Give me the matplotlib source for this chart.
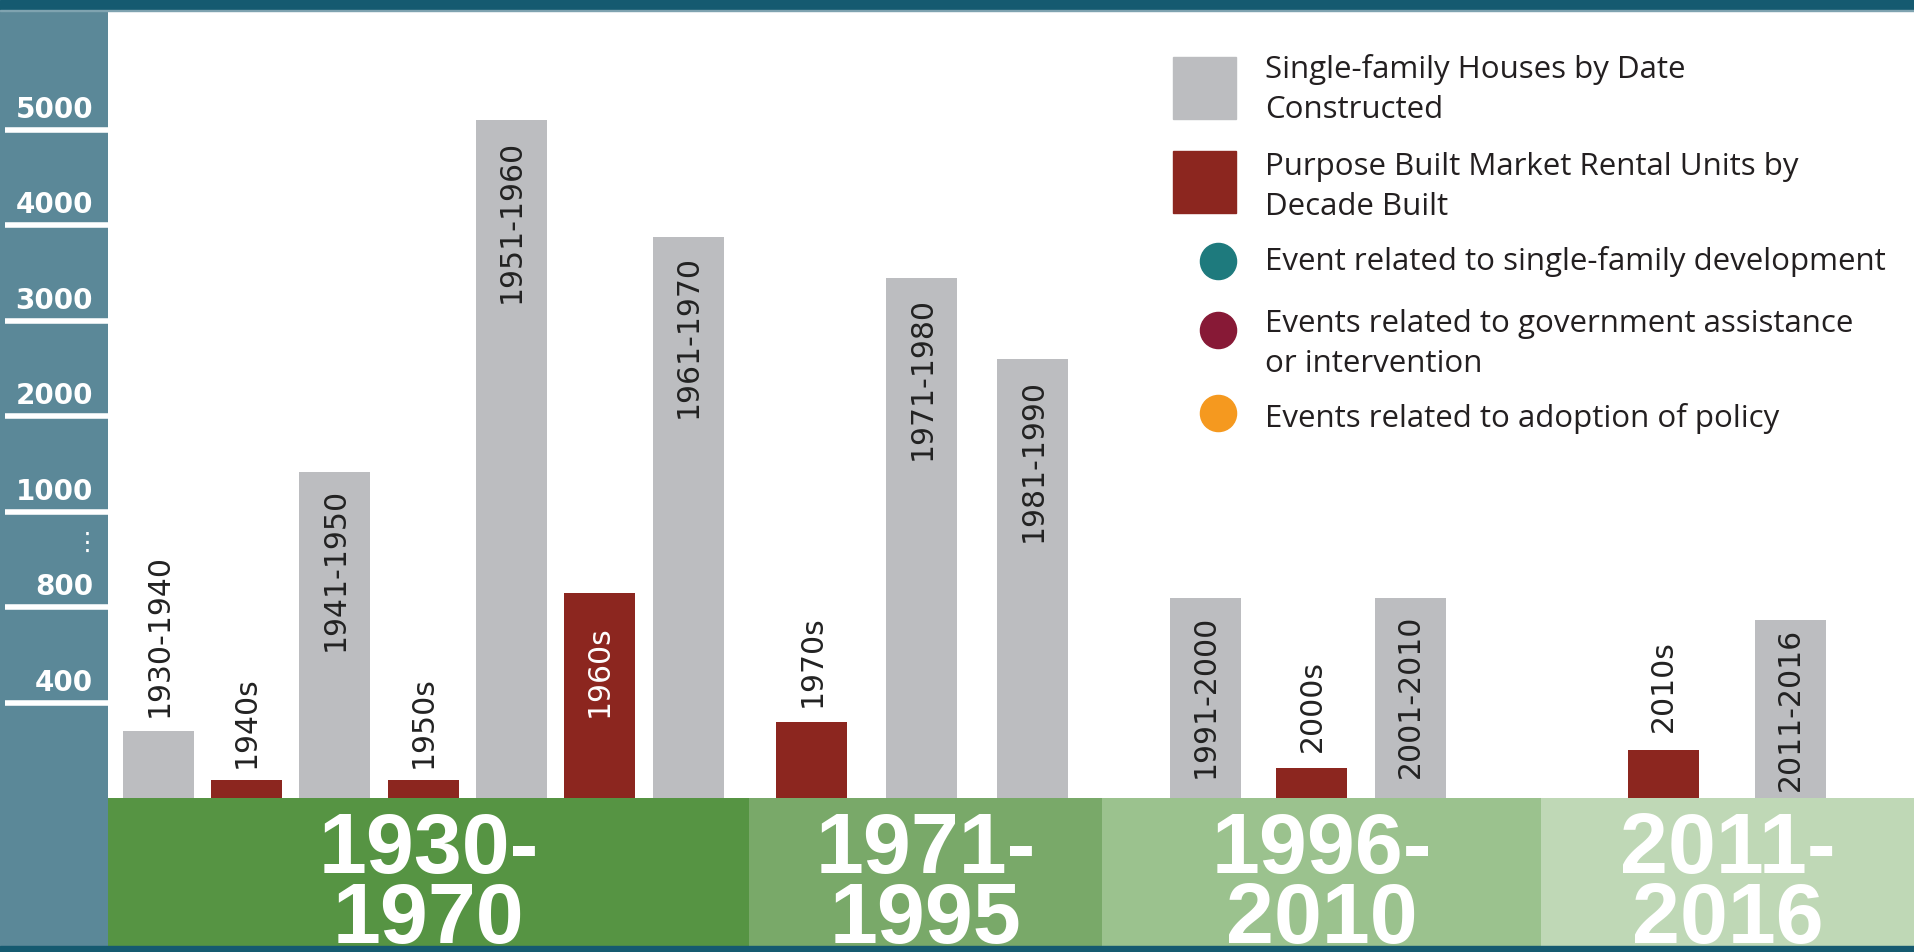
import matplotlib
matplotlib.use('Agg')
import matplotlib.pyplot as plt
import numpy as np
from matplotlib.patches import Rectangle
from matplotlib.lines import Line2D
from matplotlib.transforms import blended_transform_factory

W, H = 1915, 952

# ---- data ----
house_periods = ['1930-1940', '1941-1950', '1951-1960', '1961-1970', '1971-1980',
                 '1981-1990', '1991-2000', '2001-2010', '2011-2016']
house_units = [280, 1420, 5100, 3880, 3450, 2600, 820, 820, 745]

rental_decades = ['1940s', '1950s', '1960s', '1970s', '2000s', '2010s']
rental_units = [75, 75, 830, 320, 125, 200]

# broken value axis: each tick gets the same height
scale_vals = [-400, 0, 400, 800, 1000, 2000, 3000, 4000, 5000, 6000, 7000]
tick_vals = [400, 800, 1000, 2000, 3000, 4000, 5000]
tick_labels = ['400', '800', '1000', '2000', '3000', '4000', '5000']

band_labels = ['1930-\n1970', '1971-\n1995', '1996-\n2010', '2011-\n2016']

legend_labels = ['Single-family Houses by Date\nConstructed',
                 'Purpose Built Market Rental Units by\nDecade Built',
                 'Event related to single-family development',
                 'Events related to government assistance\nor intervention',
                 'Events related to adoption of policy']

# ---- layout (pixels of the 1915x952 picture) ----
house_x = [159, 335, 511.5, 688.5, 922, 1033, 1205.5, 1410.5, 1790.5]
rental_x = [246.5, 423.5, 599.5, 812, 1312, 1663.5]
house_lab_off = [14, -16, -19, -18, -19, -20, -17, -17, -8]
rental_lab_off = [12, 12, -32, 15, 16, 18]
rental_lab_col = ['#222222', '#222222', 'white', '#222222', '#222222', '#222222']
band_edges = [108, 749, 1102, 1541, 1915]
band_colors = ['#569443', '#79a969', '#9bc28e', '#bfd8b6']

GREY = '#bcbdc0'
RED = '#8c261f'
PANEL = '#5b8898'
DARK = '#155a70'


def fx(px):
    return px / W


def fy(py):
    return 1 - py / H


fig = plt.figure(figsize=(W / 100, H / 100), dpi=100)
fig.patch.set_facecolor('white')

# frame pieces
fig.add_artist(Rectangle((0, fy(946)), fx(108), (946 - 10) / H, transform=fig.transFigure,
                         color=PANEL, zorder=-1))
fig.add_artist(Rectangle((0, fy(10)), 1, 10 / H, transform=fig.transFigure, color=DARK, zorder=10))
fig.add_artist(Rectangle((0, fy(11)), 1, 1.5 / H, transform=fig.transFigure, color='#7fa3b0', zorder=10))
fig.add_artist(Rectangle((0, 0), 1, 6 / H, transform=fig.transFigure, color=DARK, zorder=10))

# ---- bars ----
ax = fig.add_axes([fx(108), fy(798), fx(W - 108), (798 - 10) / H])
steps = np.arange(len(scale_vals)) - 1
fwd = lambda v: np.interp(v, scale_vals, steps)
inv = lambda s: np.interp(s, steps, scale_vals)
ax.set_yscale('function', functions=(fwd, inv))

ax.bar(house_x, house_units, width=71, color=GREY)
ax.bar(rental_x, rental_units, width=71, color=RED)

for x, v, lab, off in zip(house_x, house_units, house_periods, house_lab_off):
    ax.annotate(lab, xy=(x, v), xytext=(0, off), textcoords='offset pixels', rotation=90,
                ha='center', va='bottom' if off > 0 else 'top', fontsize=21.5, color='#222222')
for x, v, lab, off, c in zip(rental_x, rental_units, rental_decades, rental_lab_off, rental_lab_col):
    ax.annotate(lab, xy=(x, v), xytext=(0, off), textcoords='offset pixels', rotation=90,
                ha='center', va='bottom' if off > 0 else 'top', fontsize=21.5, color=c)

# value ticks drawn in the left panel
tr = blended_transform_factory(fig.transFigure, ax.transData)
for v, lab in zip(tick_vals, tick_labels):
    ax.plot([fx(5), fx(108)], [v, v], transform=tr, color='white', lw=4,
            clip_on=False, solid_capstyle='butt')
    ax.annotate(lab, xy=(fx(93), v), xycoords=tr, xytext=(0, 12), textcoords='offset pixels',
                ha='right', va='baseline', color='white', fontsize=20, fontweight='bold',
                annotation_clip=False)
fig.text(fx(87), fy(543), '\u22ee', color='white', fontsize=18, ha='center', va='center')

step_px = (798 - 130) / 7
ax.set_xlim(108, W)
ax.set_ylim(0, inv(788 / step_px))
ax.set_xticks([])
ax.set_yticks([])
for s in ax.spines.values():
    s.set_visible(False)

# ---- period bands ----
bax = fig.add_axes([fx(108), fy(946), fx(W - 108), (946 - 798) / H])
bax.set_xlim(108, W)
bax.set_ylim(946, 798)
bax.axis('off')
for i, lab in enumerate(band_labels):
    bax.axvspan(band_edges[i], band_edges[i + 1], color=band_colors[i], lw=0)
    xc = (band_edges[i] + band_edges[i + 1]) / 2
    # baseline alignment of a two-line text follows its last line
    bax.text(xc, 943, lab, ha='center', va='baseline', multialignment='center',
             linespacing=0.84, color='white', fontsize=62, fontweight='bold',
             family='Liberation Sans')

# ---- legend ----
leg_colors = [GREY, RED, '#1e7a7d', '#871936', '#f5991f']
leg_square = [True, True, False, False, False]
leg_marker_y = [88, 182, 261, 330, 413]
leg_text_y = [68, 165, 260, 322, 417]
for lab, c, sq, my, ty in zip(legend_labels, leg_colors, leg_square, leg_marker_y, leg_text_y):
    if sq:
        fig.add_artist(Rectangle((fx(1173), fy(my + 31)), fx(63), 62 / H,
                                 transform=fig.transFigure, color=c))
    else:
        fig.add_artist(Line2D([fx(1218)], [fy(my)], transform=fig.transFigure, marker='o',
                              markersize=26, color=c, lw=0))
    for j, line in enumerate(lab.split('\n')):
        fig.text(fx(1265), fy(ty + 10 + 40 * j), line, ha='left', va='baseline',
                 fontsize=22.5, family='Open Sans', color='#231f20')

fig.savefig('out.png', dpi=100)
